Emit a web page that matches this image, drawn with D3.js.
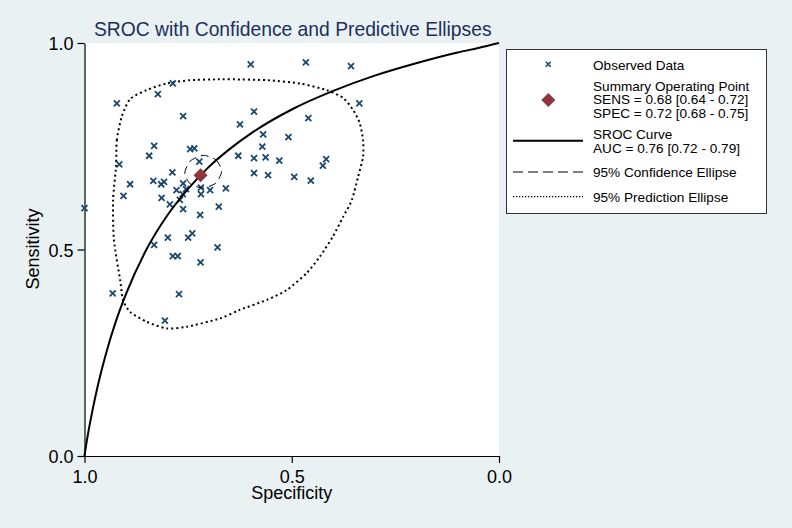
<!DOCTYPE html>
<html>
<head>
<meta charset="utf-8">
<script src="https://cdn.jsdelivr.net/npm/d3@7"></script>
<style>
  html, body { margin: 0; padding: 0; background: #e9f1f2; }
  svg { display: block; font-family: "Liberation Sans", Arial, sans-serif; }
</style>
</head>
<body>
<svg id="chart" width="792" height="528"></svg>
<script>
// ---- data ----
const titleText = "SROC with Confidence and Predictive Ellipses";
const xTicks = [1.0, 0.5, 0.0];
const yTicks = [0.0, 0.5, 1.0];

// observed studies (specificity, sensitivity)
const obsSpec = [0.599,0.466,0.357,0.337,0.922,0.787,0.823,0.762,0.832,0.844,
  0.745,0.735,0.916,0.788,0.834,0.808,0.815,0.890,0.906,0.762,
  0.778,0.755,0.719,0.697,0.659,0.719,0.763,0.814,0.770,0.794,
  0.762,0.721,0.676,0.723,0.591,0.625,0.460,0.569,0.508,0.571,
  0.629,0.591,0.563,0.530,0.417,0.425,0.591,0.557,0.494,0.454,
  1.000,0.799,0.750,0.740,0.832,0.679,0.787,0.775,0.720,0.932,
  0.772,0.806];
const obsSens = [0.948,0.953,0.944,0.854,0.854,0.902,0.876,0.823,0.751,0.727,
  0.743,0.745,0.706,0.687,0.666,0.664,0.658,0.658,0.630,0.660,
  0.644,0.646,0.650,0.644,0.648,0.634,0.634,0.625,0.620,0.609,
  0.598,0.584,0.604,0.713,0.834,0.803,0.818,0.779,0.772,0.749,
  0.727,0.721,0.723,0.715,0.719,0.703,0.685,0.680,0.676,0.667,
  0.600,0.529,0.529,0.539,0.511,0.505,0.484,0.484,0.469,0.394,
  0.392,0.328];

// summary operating point
const summarySpec = 0.72;
const summarySens = 0.68;

// SROC curve (specificity, sensitivity)
const srocSpec = [1.0,0.9995,0.998,0.995,0.99,0.98,0.97,0.95,0.925,0.9,0.85,0.8,0.75,0.7,0.65,0.6,0.5,0.4,0.3,0.2,0.1,0.05,0.0];
const srocSens = [0.0,0.0038,0.014,0.033,0.062,0.114,0.161,0.241,0.324,0.392,0.501,0.583,0.647,0.700,0.743,0.780,0.839,0.884,0.921,0.951,0.977,0.988,1.0];

// 95% confidence ellipse outline
const confSpec = [0.714,0.683,0.669,0.683,0.714,0.745,0.758,0.745];
const confSens = [0.728,0.717,0.690,0.661,0.649,0.659,0.685,0.714];

// 95% prediction ellipse outline
const predSpec = [0.924,0.922,0.910,0.890,0.850,0.802,0.745,0.681,0.642,0.560,0.480,0.416,0.376,0.352,0.336,0.328,0.328,0.340,0.355,0.376,0.401,0.432,0.464,0.512,0.560,0.625,0.673,0.753,0.802,0.850,0.890,0.907,0.914,0.929,0.931];
const predSens = [0.700,0.765,0.822,0.864,0.886,0.902,0.910,0.912,0.912,0.910,0.902,0.886,0.867,0.838,0.806,0.765,0.724,0.676,0.620,0.579,0.531,0.483,0.443,0.402,0.378,0.354,0.333,0.313,0.309,0.325,0.349,0.378,0.426,0.523,0.620];

const legendLabels = [
  ["Observed Data"],
  ["Summary Operating Point", "SENS = 0.68 [0.64 - 0.72]", "SPEC = 0.72 [0.68 - 0.75]"],
  ["SROC Curve", "AUC = 0.76 [0.72 - 0.79]"],
  ["95% Confidence Ellipse"],
  ["95% Prediction Ellipse"]
];

// ---- drawing ----
(function () {
const svg = d3.select("#chart");
const navy = "#1a476f", maroon = "#90353b";
const pLeft = 84.5, pRight = 499, pTop = 43, pBottom = 456;

svg.append("rect").attr("width", 792).attr("height", 528).attr("fill", "#e9f1f2");

const x = d3.scaleLinear().domain([1, 0]).range([pLeft, pRight]);
const y = d3.scaleLinear().domain([0, 1]).range([pBottom, pTop]);

svg.append("rect").attr("x", pLeft).attr("y", pTop)
  .attr("width", pRight - pLeft).attr("height", pBottom - pTop).attr("fill", "#ffffff");

// title
svg.append("text").attr("x", 94).attr("y", 35.5)
  .attr("font-size", 19.3).attr("fill", "#1c2f5c").text(titleText);

// axes
const fmt = d3.format(".1f");
const xAxis = svg.append("g").attr("transform", `translate(0,${pBottom})`)
  .call(d3.axisBottom(x).tickValues(xTicks).tickFormat(fmt).tickSize(7).tickSizeOuter(0));
const yAxis = svg.append("g").attr("transform", `translate(${pLeft},0)`)
  .call(d3.axisLeft(y).tickValues(yTicks).tickFormat(fmt).tickSize(7).tickSizeOuter(0));
[xAxis, yAxis].forEach(g => {
  g.select(".domain").attr("stroke", "#000").attr("stroke-width", 1.2);
  g.selectAll(".tick line").attr("stroke", "#000").attr("stroke-width", 1.2);
  g.selectAll(".tick text").attr("fill", "#000").attr("font-size", 18)
    .attr("font-family", "Liberation Sans, Arial, sans-serif");
});
xAxis.selectAll(".tick text").attr("dy", null).attr("y", 26.5);
yAxis.selectAll(".tick text").attr("dy", null).attr("x", -11).attr("y", 6.5);

svg.append("text").attr("x", (pLeft + pRight) / 2).attr("y", 498.5)
  .attr("text-anchor", "middle").attr("font-size", 18).attr("fill", "#000").text("Specificity");
svg.append("text").attr("transform", "translate(39,249) rotate(-90)")
  .attr("text-anchor", "middle").attr("font-size", 18).attr("fill", "#000").text("Sensitivity");

// prediction ellipse
const closed = d3.line().x(d => x(d[0])).y(d => y(d[1])).curve(d3.curveCardinalClosed.tension(0.3));
svg.append("path").datum(d3.zip(predSpec, predSens)).attr("d", closed)
  .attr("fill", "none").attr("stroke", "#000").attr("stroke-width", 2)
  .attr("stroke-dasharray", "2,3");

// observed points
const xMark = (s) => `M${-s},${-s}L${s},${s}M${-s},${s}L${s},${-s}`;
svg.append("g").selectAll("path").data(d3.zip(obsSpec, obsSens)).join("path")
  .attr("transform", d => `translate(${x(d[0])},${y(d[1])})`)
  .attr("d", xMark(3)).attr("stroke", navy).attr("stroke-width", 1.8).attr("fill", "none");

// confidence ellipse
svg.append("path").datum(d3.zip(confSpec, confSens)).attr("d", closed)
  .attr("fill", "none").attr("stroke", "#000").attr("stroke-width", 1)
  .attr("stroke-dasharray", "8,5");

// SROC curve
const line = d3.line().x(d => x(d[0])).y(d => y(d[1])).curve(d3.curveMonotoneX);
svg.append("path").datum(d3.zip(srocSpec, srocSens)).attr("d", line)
  .attr("fill", "none").attr("stroke", "#000").attr("stroke-width", 2);

// summary point
svg.append("path").attr("transform", `translate(${x(summarySpec)},${y(summarySens)})`)
  .attr("d", "M0,-7L7,0L0,7L-7,0Z").attr("fill", maroon);

// legend
const lg = svg.append("g");
lg.append("rect").attr("x", 506.5).attr("y", 49.5).attr("width", 260).attr("height", 164)
  .attr("fill", "#fff").attr("stroke", "#333").attr("stroke-width", 1);
const tx = 593;
const baselines = [[69.5], [90.7, 104.3, 117.7], [139.3, 152.7], [176.7], [201.7]];
legendLabels.forEach((lines, i) => {
  lines.forEach((t, j) => {
    lg.append("text").attr("x", tx).attr("y", baselines[i][j])
      .attr("font-size", 13.6).attr("fill", "#000").text(t);
  });
});
lg.append("path").attr("transform", "translate(548.3,64.3)").attr("d", xMark(2.5))
  .attr("stroke", navy).attr("stroke-width", 1.6).attr("fill", "none");
lg.append("path").attr("transform", "translate(548.3,100)")
  .attr("d", "M0,-7L7,0L0,7L-7,0Z").attr("fill", maroon);
lg.append("line").attr("x1", 513).attr("x2", 583).attr("y1", 140.7).attr("y2", 140.7)
  .attr("stroke", "#000").attr("stroke-width", 2);
lg.append("line").attr("x1", 513).attr("x2", 583).attr("y1", 172).attr("y2", 172)
  .attr("stroke", "#000").attr("stroke-width", 1).attr("stroke-dasharray", "10,5");
lg.append("line").attr("x1", 513).attr("x2", 583).attr("y1", 196.7).attr("y2", 196.7)
  .attr("stroke", "#000").attr("stroke-width", 1.3).attr("stroke-dasharray", "1.3,1.7");
})();
</script>
</body>
</html>
